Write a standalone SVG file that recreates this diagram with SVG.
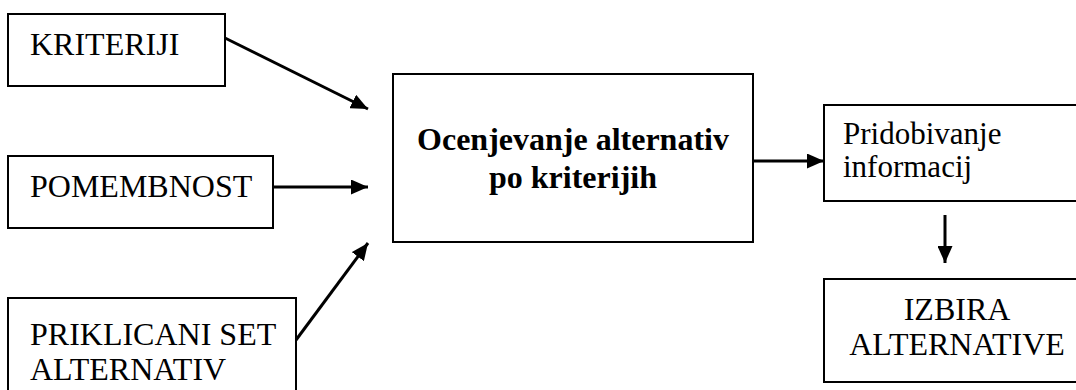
<svg xmlns="http://www.w3.org/2000/svg" width="1076" height="390" viewBox="0 0 1076 390">
  <style>
    .box { fill: #fff; stroke: #000; stroke-width: 2; }
    text { font-family: 'Liberation Serif', 'Times New Roman', Times, serif; font-size: 32px; fill: #000; }
    .bold { font-weight: bold; font-size: 32px; }
    .wire { stroke: #000; stroke-width: 3; fill: none; marker-end: url(#head); }
  </style>
  <defs>
    <marker id="head" markerUnits="userSpaceOnUse" markerWidth="17" markerHeight="15" refX="17" refY="7.5" orient="auto">
      <path d="M0,0 L17,7.5 L0,15 Z" fill="#000"/>
    </marker>
  </defs>

  <g id="kriteriji">
    <rect class="box" x="8" y="14" width="217" height="72"/>
    <text x="30" y="55" font-family="Liberation Serif, serif">KRITERIJI</text>
  </g>

  <g id="pomembnost">
    <rect class="box" x="8" y="156" width="265" height="72"/>
    <text x="30" y="197" font-family="Liberation Serif, serif">POMEMBNOST</text>
  </g>

  <g id="priklicani">
    <rect class="box" x="8" y="298" width="288" height="110"/>
    <text x="30" y="345" font-family="Liberation Serif, serif">PRIKLICANI SET</text>
    <text x="30" y="380" font-family="Liberation Serif, serif">ALTERNATIV</text>
  </g>

  <g id="ocenjevanje">
    <rect class="box" x="393" y="74" width="360" height="168"/>
    <text class="bold" x="573" y="150" text-anchor="middle" font-family="Liberation Serif, serif">Ocenjevanje alternativ</text>
    <text class="bold" x="573" y="188" text-anchor="middle" font-family="Liberation Serif, serif">po kriterijih</text>
  </g>

  <g id="pridobivanje">
    <rect class="box" x="824" y="105" width="270" height="96"/>
    <text x="843" y="144" font-family="Liberation Serif, serif" style="font-size:31px">Pridobivanje</text>
    <text x="843" y="177" font-family="Liberation Serif, serif" style="font-size:31px">informacij</text>
  </g>

  <g id="izbira">
    <rect class="box" x="824" y="279" width="270" height="103"/>
    <text x="957" y="320" text-anchor="middle" font-family="Liberation Serif, serif">IZBIRA</text>
    <text x="957" y="355" text-anchor="middle" font-family="Liberation Serif, serif">ALTERNATIVE</text>
  </g>

  <g id="connectors">
    <line class="wire" x1="225" y1="38" x2="368" y2="109"/>
    <line class="wire" x1="273" y1="187" x2="368" y2="187"/>
    <line class="wire" x1="296" y1="340" x2="368" y2="243"/>
    <line class="wire" x1="753" y1="161" x2="824" y2="161"/>
    <line class="wire" x1="945" y1="215" x2="945" y2="263"/>
  </g>
</svg>
